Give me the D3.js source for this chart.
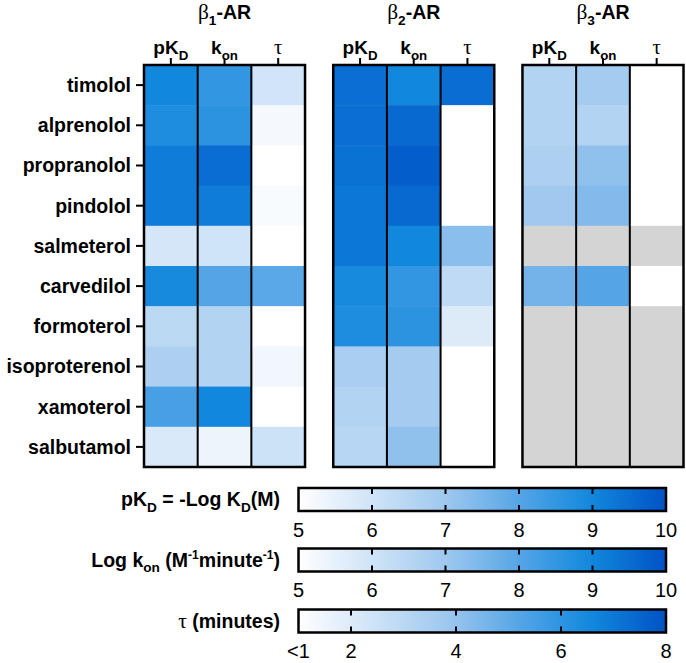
<!DOCTYPE html>
<html>
<head>
<meta charset="utf-8">
<script src="https://cdn.jsdelivr.net/npm/d3@7"></script>
<style>
  body { margin: 0; background: #fff; }
  text { font-family: "Liberation Sans", Arial, sans-serif; }
  .greek { font-family: "Liberation Serif", "Times New Roman", serif; font-weight: normal; }
</style>
</head>
<body>
<svg id="chart" width="686" height="663"></svg>
<script>
// row and column categories
var drugs = ["timolol", "alprenolol", "propranolol", "pindolol", "salmeterol",
             "carvedilol", "formoterol", "isoproterenol", "xamoterol", "salbutamol"];
var receptors = ["1", "2", "3"];
var params = ["pKD", "kon", "tau"];

// values (null = not determined, grey cell)
var b1_pKD = [9.0, 8.8, 9.2, 9.2, 5.9, 8.9, 6.4, 6.7, 8.2, 5.8];
var b1_kon = [8.5, 8.6, 9.5, 9.2, 6.0, 8.0, 6.6, 6.6, 9.0, 5.4];
var b1_tau = [2.3, 1.3, 1.0, 1.2, 1.0, 5.1, 1.0, 1.4, 1.0, 2.5];
var b2_pKD = [9.45, 9.45, 9.4, 9.3, 9.3, 8.9, 8.8, 6.8, 6.6, 6.5];
var b2_kon = [9.0, 9.55, 9.8, 9.55, 9.0, 8.5, 8.6, 6.9, 6.9, 7.2];
var b2_tau = [7.3, 1.0, 1.0, 1.0, 4.2, 2.9, 2.0, 1.0, 1.0, 1.0];
var b3_pKD = [6.6, 6.6, 6.7, 6.95, null, 7.6, null, null, null, null];
var b3_kon = [6.9, 6.6, 7.2, 7.4, null, 8.0, null, null, null, null];
var b3_tau = [1.0, 1.0, 1.0, 1.0, null, 1.0, null, null, null, null];

// colour bar ticks
var logTicks = [5, 6, 7, 8, 9, 10];
var tauTicks = [2, 4, 6, 8];
var tauTickLabels = ["<1", "2", "4", "6", "8"];

var blues = ["#ffffff", "#9fc8ef", "#55a5e6", "#1187dd", "#0052c5"];
var missing = "#d4d4d4";

var values = {
  "1": [b1_pKD, b1_kon, b1_tau],
  "2": [b2_pKD, b2_kon, b2_tau],
  "3": [b3_pKD, b3_kon, b3_tau]
};

var colorLog = d3.scaleLinear().domain([5, 7, 8, 9, 10]).range(blues).clamp(true);
var colorTau = d3.scaleLinear().domain([1, 3.8, 5.2, 6.6, 8]).range(blues).clamp(true);

var svg = d3.select("#chart");

// write text with sub/superscript pieces
function rich(sel, parts, size) {
  var shift = 0;
  parts.forEach(function (p) {
    var t = sel.append("tspan").text(p[0]);
    var target = 0;
    if (p[1] === "sub") { target = size * 0.3; t.attr("font-size", size * 0.7); }
    if (p[1] === "sup") { target = -size * 0.38; t.attr("font-size", size * 0.62); }
    if (p[1] === "greek") { t.attr("class", "greek").attr("font-size", size * 1.1); }
    if (target !== shift) { t.attr("dy", target - shift); shift = target; }
  });
}

var gridTop = 65, gridBottom = 467;
var y = d3.scaleBand().domain(drugs).range([gridTop, gridBottom]);
var panel = d3.scaleBand().domain(receptors).range([144, 683.5]).paddingInner(0.149);

// row labels + ticks
svg.append("g").selectAll("text").data(drugs).join("text")
  .attr("x", 131)
  .attr("y", d => y(d) + y.bandwidth() / 2)
  .attr("dy", "0.35em")
  .attr("text-anchor", "end")
  .attr("font-size", 19.5)
  .attr("font-weight", "bold")
  .text(d => d);

svg.append("g").selectAll("line").data(drugs).join("line")
  .attr("x1", 136).attr("x2", 144)
  .attr("y1", d => y(d) + y.bandwidth() / 2)
  .attr("y2", d => y(d) + y.bandwidth() / 2)
  .attr("stroke", "#000").attr("stroke-width", 2);

var colLabels = {
  pKD: [["pK"], ["D", "sub"]],
  kon: [["k"], ["on", "sub"]],
  tau: [["τ", "greek"]]
};

receptors.forEach(function (r) {
  var x0 = panel(r);
  var x = d3.scaleBand().domain(params).range([x0, x0 + panel.bandwidth()]);
  var g = svg.append("g");

  // header
  var h = g.append("text")
    .attr("x", x0 + panel.bandwidth() / 2)
    .attr("y", 19)
    .attr("text-anchor", "middle")
    .attr("font-size", 19.5)
    .attr("font-weight", "bold");
  rich(h, [["β", "greek"], [r, "sub"], ["-AR"]], 19.5);

  // cells
  params.forEach(function (p, j) {
    var col = values[r][j];
    var scale = p === "tau" ? colorTau : colorLog;
    g.append("g").selectAll("rect").data(col).join("rect")
      .attr("x", x(p))
      .attr("y", (d, i) => y(drugs[i]))
      .attr("width", x.bandwidth() + 0.5)
      .attr("height", y.bandwidth() + 0.5)
      .attr("fill", d => d == null ? missing : scale(d));

    // column label + tick
    var t = g.append("text")
      .attr("x", x(p) + x.bandwidth() / 2)
      .attr("y", 54)
      .attr("text-anchor", "middle")
      .attr("font-size", 19)
      .attr("font-weight", "bold");
    rich(t, colLabels[p], 19);

    g.append("line")
      .attr("x1", x(p) + x.bandwidth() / 2).attr("x2", x(p) + x.bandwidth() / 2)
      .attr("y1", 58).attr("y2", gridTop)
      .attr("stroke", "#000").attr("stroke-width", 2);
  });

  // column dividers
  g.append("g").selectAll("line").data(params.slice(1)).join("line")
    .attr("x1", d => x(d)).attr("x2", d => x(d))
    .attr("y1", gridTop).attr("y2", gridBottom)
    .attr("stroke", "#000").attr("stroke-width", 2);

  // frame
  g.append("rect")
    .attr("x", x0).attr("y", gridTop)
    .attr("width", panel.bandwidth()).attr("height", gridBottom - gridTop)
    .attr("fill", "none").attr("stroke", "#000").attr("stroke-width", 2.5);
});

// colour bars
var defs = svg.append("defs");
var grad = defs.append("linearGradient").attr("id", "grad");
d3.range(0, 1.0001, 0.05).forEach(function (f) {
  grad.append("stop").attr("offset", f).attr("stop-color", colorLog(5 + 5 * f));
});

var barX0 = 298.5, barX1 = 666;
var xLog = d3.scaleLinear().domain([5, 10]).range([barX0, barX1]);
var xTau = d3.scaleLinear().domain([1, 8]).range([barX0, barX1]);

var bars = [
  { y: 488, label: [["pK"], ["D", "sub"], [" = -Log K"], ["D", "sub"], ["(M)"]],
    scale: xLog, ticks: logTicks.slice(1, -1), labelTicks: logTicks, tickText: logTicks.map(String) },
  { y: 548.5, label: [["Log k"], ["on", "sub"], [" (M"], ["-1", "sup"], ["minute"], ["-1", "sup"], [")"]],
    scale: xLog, ticks: logTicks.slice(1, -1), labelTicks: logTicks, tickText: logTicks.map(String) },
  { y: 609.5, label: [["τ", "greek"], [" (minutes)"]],
    scale: xTau, ticks: tauTicks.slice(0, -1), labelTicks: [1].concat(tauTicks), tickText: tauTickLabels }
];

var barH = 23;
bars.forEach(function (b) {
  var g = svg.append("g");
  g.append("rect")
    .attr("x", barX0).attr("y", b.y)
    .attr("width", barX1 - barX0).attr("height", barH)
    .attr("fill", "url(#grad)")
    .attr("stroke", "#000").attr("stroke-width", 2.5);

  b.ticks.forEach(function (v) {
    g.append("line").attr("x1", b.scale(v)).attr("x2", b.scale(v))
      .attr("y1", b.y).attr("y2", b.y + 6)
      .attr("stroke", "#000").attr("stroke-width", 2);
    g.append("line").attr("x1", b.scale(v)).attr("x2", b.scale(v))
      .attr("y1", b.y + barH - 6).attr("y2", b.y + barH)
      .attr("stroke", "#000").attr("stroke-width", 2);
  });

  g.selectAll("text.tick").data(b.labelTicks).join("text")
    .attr("class", "tick")
    .attr("x", d => b.scale(d))
    .attr("y", b.y + barH + 25.5)
    .attr("text-anchor", "middle")
    .attr("font-size", 20)
    .text((d, i) => b.tickText[i]);

  var lt = g.append("text")
    .attr("x", 280)
    .attr("y", b.y + barH / 2 + 6.5)
    .attr("text-anchor", "end")
    .attr("font-size", 19.5)
    .attr("font-weight", "bold");
  rich(lt, b.label, 19.5);
});
</script>
</body>
</html>
